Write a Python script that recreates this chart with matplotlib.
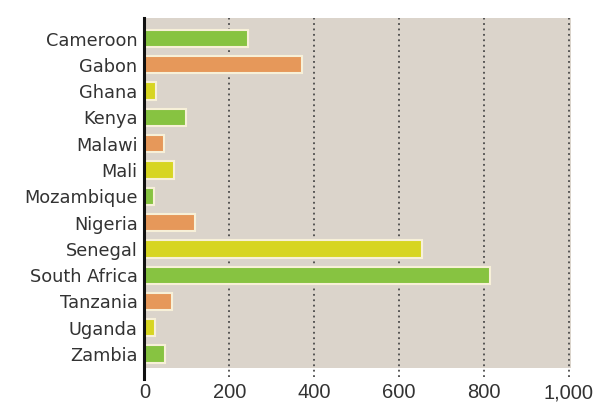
import numpy as np
import matplotlib
matplotlib.use("Agg")
import matplotlib.pyplot as plt

# data
countries = ["Cameroon", "Gabon", "Ghana", "Kenya", "Malawi", "Mali", "Mozambique",
             "Nigeria", "Senegal", "South Africa", "Tanzania", "Uganda", "Zambia"]
values = [244, 371, 27, 99, 47, 70, 22, 119, 655, 814, 65, 25, 48]
groups = ["g", "o", "y", "g", "o", "y", "g", "o", "y", "g", "o", "y", "g"]
xticks = [0, 200, 400, 600, 800, 1000]
xticklabels = ["0", "200", "400", "600", "800", "1,000"]

palette = {"g": "#87c341", "o": "#e6985a", "y": "#d7d522"}
colors = [palette[g] for g in groups]

plt.rcParams['font.family'] = ['DejaVu Sans']

fig = plt.figure(figsize=(6.02, 4.03), dpi=100)
ax = fig.add_axes([0.240, 0.0868, 0.7085, 0.8685])
ax.set_facecolor("#dbd4cb")

ypos = np.arange(len(countries))
ax.barh(ypos, values, height=0.66, color=colors, edgecolor="#f7f0d8",
        linewidth=1.5, zorder=3)

ax.set_xlim(0, 1005)
ax.set_ylim(12.53, -0.78)

# dotted gridlines, running a little below the panel
for x in xticks[1:]:
    ax.axvline(x, ymin=-0.026, ymax=1, color="#4a4a4a", linestyle=(0, (1, 2)),
               linewidth=1.3, clip_on=False, zorder=2)
ax.axvline(0, ymin=-0.03, ymax=1, color="#111111", linewidth=2.2,
           clip_on=False, zorder=4)

for s in ax.spines.values():
    s.set_visible(False)

ax.set_yticks(ypos)
ax.set_yticklabels(countries, fontsize=12.8, color="#333333")
ax.set_xticks(xticks)
ax.set_xticklabels(xticklabels, fontsize=14.5, color="#333333",
                   family=["Liberation Sans"])
ax.tick_params(axis="y", length=0, pad=5)
ax.tick_params(axis="x", length=0, pad=11)

fig.savefig("out.png", dpi=100)
